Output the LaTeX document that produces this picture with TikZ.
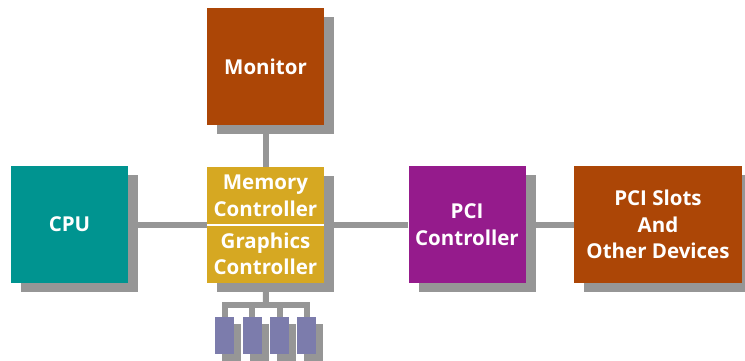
\documentclass[tikz,border=0pt]{standalone}
\usepackage{fontspec}
\setmainfont{Open Sans}
\usetikzlibrary{shadows}

\definecolor{rust}{RGB}{172,70,6}
\definecolor{teal}{RGB}{0,148,144}
\definecolor{gold}{RGB}{214,168,34}
\definecolor{plum}{RGB}{149,27,140}
\definecolor{slate}{RGB}{124,124,172}
\definecolor{shadegray}{RGB}{150,150,150}

\tikzset{
	unit/.style={fill=#1, text=white, inner sep=0pt, align=center,
		minimum width=117pt, minimum height=117pt,
		font=\fontsize{20.5}{26.5}\selectfont\bfseries,
		general shadow={fill=shadegray, shadow xshift=10pt, shadow yshift=-9pt}},
	half/.style={unit=gold, minimum height=58pt},
	dimm/.style={fill=slate, inner sep=0pt, minimum width=19pt, minimum height=37pt,
		general shadow={fill=shadegray, shadow xshift=7pt, shadow yshift=-7pt}},
	wire/.style={draw=shadegray, line width=6pt}
}

\begin{document}
\begin{tikzpicture}[x=1pt, y=-1pt]
		\useasboundingbox (0,0) rectangle (745,360);
		%boxes
		\node[unit=rust] (monitor) at (265.5, 66.5) {Monitor};
		\node[unit=teal] (cpu) at (69.5, 224.5) {CPU};
		\node[half] (memctl) at (265.5, 196) {Memory\\Controller};
		\node[half] (gfxctl) at (265.5, 254) {Graphics\\Controller};
		\draw[white, line width=1.5pt] (memctl.south west) -- (memctl.south east);
		\node[unit=plum] (pcictl) at (467, 224.5) {PCI\\Controller};
		\node[unit=rust, minimum width=168pt] (slots) at (658, 224.5) {PCI Slots\\And\\Other Devices};
		%memory modules
		\coordinate (bus) at (266, 305);
		\foreach \i/\x in {1/224.5, 2/252, 3/279.5, 4/306.5}
			\node[dimm] (dimm\i) at (\x, 335.5) {};
		%wires
		\draw[wire] (monitor) -- (memctl);
		\draw[wire] (cpu.east) -- (cpu.east -| memctl.west);
		\draw[wire] (pcictl.west |- cpu.east) -- (cpu.east -| memctl.east);
		\draw[wire] (pcictl.east) -- (slots.west);
		\draw[wire] (gfxctl) -- (bus);
		\draw[wire, line cap=rect] (dimm1.north |- bus) -- (dimm4.north |- bus);
		\foreach \i in {1, 2, 3, 4}
			\draw[wire] (dimm\i.north |- bus) -- (dimm\i.north);
\end{tikzpicture}
\end{document}
